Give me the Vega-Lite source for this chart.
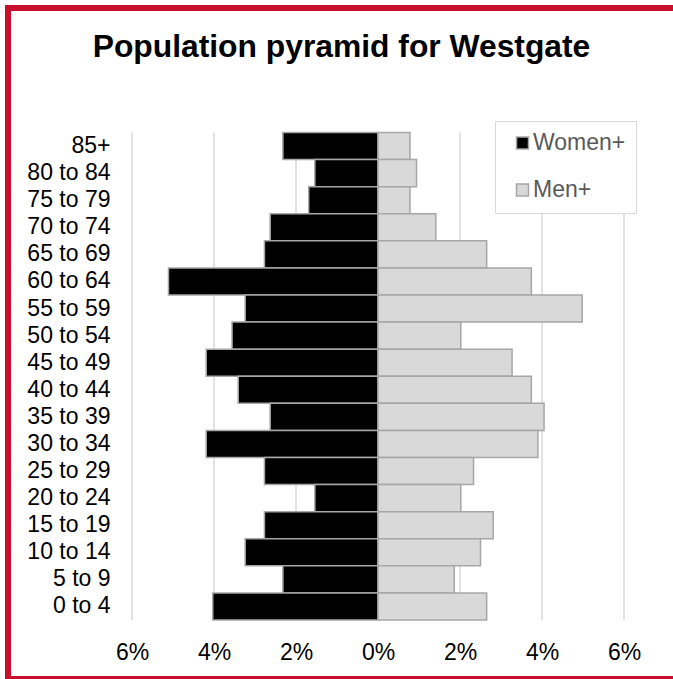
{
  "$schema": "https://vega.github.io/schema/vega-lite/v6.json",
  "width": 720,
  "height": 671,
  "autosize": {"type": "none"},
  "padding": {"left": 8, "top": 8, "right": 0, "bottom": 0},
  "background": "white",
  "config": {
    "font": "Liberation Sans",
    "view": {"stroke": "#c8102e", "strokeWidth": 6}
  },
  "title": {
    "text": "Population pyramid for Westgate",
    "fontSize": 31.8,
    "fontWeight": "bold",
    "color": "#000000",
    "anchor": "middle",
    "baseline": "alphabetic",
    "offset": 0,
    "dy": 81,
    "dx": -26.5
  },
  "datasets": {
    "grid": [{"v": -6}, {"v": -4}, {"v": -2}, {"v": 2}, {"v": 4}, {"v": 6}],
    "pop": [
      {"age": "85+", "sex": "Women+", "pct": -2.32},
      {"age": "80 to 84", "sex": "Women+", "pct": -1.54},
      {"age": "75 to 79", "sex": "Women+", "pct": -1.69},
      {"age": "70 to 74", "sex": "Women+", "pct": -2.63},
      {"age": "65 to 69", "sex": "Women+", "pct": -2.77},
      {"age": "60 to 64", "sex": "Women+", "pct": -5.11},
      {"age": "55 to 59", "sex": "Women+", "pct": -3.24},
      {"age": "50 to 54", "sex": "Women+", "pct": -3.56},
      {"age": "45 to 49", "sex": "Women+", "pct": -4.19},
      {"age": "40 to 44", "sex": "Women+", "pct": -3.41},
      {"age": "35 to 39", "sex": "Women+", "pct": -2.63},
      {"age": "30 to 34", "sex": "Women+", "pct": -4.19},
      {"age": "25 to 29", "sex": "Women+", "pct": -2.77},
      {"age": "20 to 24", "sex": "Women+", "pct": -1.54},
      {"age": "15 to 19", "sex": "Women+", "pct": -2.77},
      {"age": "10 to 14", "sex": "Women+", "pct": -3.24},
      {"age": "5 to 9", "sex": "Women+", "pct": -2.32},
      {"age": "0 to 4", "sex": "Women+", "pct": -4.03},
      {"age": "85+", "sex": "Men+", "pct": 0.78},
      {"age": "80 to 84", "sex": "Men+", "pct": 0.94},
      {"age": "75 to 79", "sex": "Men+", "pct": 0.78},
      {"age": "70 to 74", "sex": "Men+", "pct": 1.41},
      {"age": "65 to 69", "sex": "Men+", "pct": 2.65},
      {"age": "60 to 64", "sex": "Men+", "pct": 3.74},
      {"age": "55 to 59", "sex": "Men+", "pct": 4.98},
      {"age": "50 to 54", "sex": "Men+", "pct": 2.02},
      {"age": "45 to 49", "sex": "Men+", "pct": 3.27},
      {"age": "40 to 44", "sex": "Men+", "pct": 3.74},
      {"age": "35 to 39", "sex": "Men+", "pct": 4.05},
      {"age": "30 to 34", "sex": "Men+", "pct": 3.9},
      {"age": "25 to 29", "sex": "Men+", "pct": 2.33},
      {"age": "20 to 24", "sex": "Men+", "pct": 2.02},
      {"age": "15 to 19", "sex": "Men+", "pct": 2.81},
      {"age": "10 to 14", "sex": "Men+", "pct": 2.5},
      {"age": "5 to 9", "sex": "Men+", "pct": 1.86},
      {"age": "0 to 4", "sex": "Men+", "pct": 2.65}
    ]
  },
  "layer": [
    {
      "data": {"name": "grid"},
      "mark": {"type": "rule", "color": "#d9d9d9", "strokeWidth": 1.5},
      "encoding": {
        "x": {"field": "v", "type": "quantitative", "title": null},
        "y": {"datum": "85+", "type": "nominal", "bandPosition": 0},
        "y2": {"datum": "0 to 4", "bandPosition": 1}
      }
    },
    {
      "data": {"name": "pop"},
      "mark": {"type": "bar", "stroke": "#a6a6a6", "strokeWidth": 1.5},
      "encoding": {
        "x": {
          "field": "pct",
          "type": "quantitative",
          "title": null,
          "scale": {"domain": [-6, 6], "range": [124, 616], "nice": false},
          "axis": {
            "values": [-6, -4, -2, 0, 2, 4, 6],
            "labelExpr": "abs(datum.value) + '%'",
            "labelFlush": false,
            "labelOverlap": false,
            "domain": false,
            "ticks": false,
            "tickSize": 0,
            "grid": false,
            "labelFontSize": 23,
            "labelColor": "#000000",
            "labelPadding": 20,
            "offset": -58
          }
        },
        "y": {
          "field": "age",
          "type": "nominal",
          "title": null,
          "scale": {
            "domain": ["85+", "80 to 84", "75 to 79", "70 to 74", "65 to 69", "60 to 64", "55 to 59", "50 to 54", "45 to 49", "40 to 44", "35 to 39", "30 to 34", "25 to 29", "20 to 24", "15 to 19", "10 to 14", "5 to 9", "0 to 4"],
            "range": [124.5, 612],
            "paddingInner": 0,
            "paddingOuter": 0
          },
          "axis": {
            "domain": false,
            "ticks": false,
            "tickSize": 0,
            "grid": false,
            "labelFontSize": 23,
            "labelColor": "#000000",
            "labelPadding": 4,
            "offset": -106
          }
        },
        "color": {
          "field": "sex",
          "type": "nominal",
          "scale": {"domain": ["Women+", "Men+"], "range": ["#000000", "#d9d9d9"]},
          "legend": {
            "orient": "none",
            "legendX": 487,
            "legendY": 113,
            "title": null,
            "fillColor": "white",
            "strokeColor": "#d9d9d9",
            "padding": 10.5,
            "symbolOffset": 5.5,
            "symbolType": "square",
            "symbolSize": 144,
            "symbolStrokeColor": "#a6a6a6",
            "symbolStrokeWidth": 1.5,
            "labelFontSize": 23,
            "labelColor": "#595959",
            "labelOffset": -1,
            "rowPadding": 23
          }
        }
      }
    }
  ]
}
